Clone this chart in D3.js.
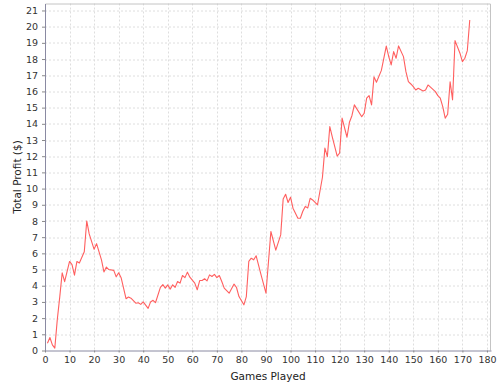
<!DOCTYPE html>
<html>
<head>
<meta charset="utf-8">
<script src="https://cdn.jsdelivr.net/npm/d3@7"></script>
<style>
  body { margin: 0; background: #fff; }
  svg { display: block; }
  text { font-family: "DejaVu Sans", sans-serif; }
</style>
</head>
<body>
<div id="chart"></div>
<script>

// games played (x) and running profit in $ (y)
var games = [1, 2, 3, 4, 5, 6, 7, 8, 10, 11, 12, 13, 14, 16, 17, 18, 20, 21, 23, 24,
  25, 26, 28, 29, 30, 31, 33, 34, 35, 37, 38, 39, 40, 42, 43, 44, 45, 47, 48, 49,
  50, 51, 52, 53, 54, 55, 56, 57, 58, 59, 61, 62, 63, 64, 65, 66, 67, 68, 69, 70,
  71, 72, 73, 75, 77, 78, 79, 81, 82, 83, 84, 85, 86, 88, 90, 92, 94, 96, 97, 98,
  99, 100, 101, 103, 104, 105, 106, 107, 108, 109, 111, 113, 114, 115, 116, 117, 119, 120, 121, 123,
  124, 125, 126, 129, 130, 131, 132, 133, 134, 135, 137, 139, 140, 141, 142, 143, 144, 146, 147, 148,
  149, 150, 151, 152, 154, 155, 156, 157, 159, 160, 161, 162, 163, 164, 165, 166, 167, 169, 170, 171,
  172, 173];

var profit = [0.45, 0.8, 0.35, 0.15, 1.9, 3.3, 4.8, 4.25, 5.5, 5.3, 4.65, 5.5, 5.4, 6.1, 8.0, 7.2, 6.25, 6.6, 5.6, 4.85,
  5.15, 5.0, 4.95, 4.55, 4.8, 4.5, 3.2, 3.3, 3.23, 2.92, 2.95, 2.85, 3.0, 2.6, 3.0, 3.1, 2.95, 3.9, 4.07, 3.85,
  4.05, 3.79, 4.06, 3.9, 4.26, 4.16, 4.63, 4.5, 4.84, 4.53, 4.16, 3.75, 4.32, 4.32, 4.43, 4.3, 4.67, 4.57, 4.7, 4.5,
  4.63, 4.26, 3.85, 3.54, 4.1, 3.89, 3.33, 2.82, 3.33, 5.5, 5.7, 5.6, 5.85, 4.67, 3.54, 7.35, 6.2, 7.14, 9.35, 9.65,
  9.14, 9.47, 8.79, 8.17, 8.17, 8.6, 8.9, 8.8, 9.4, 9.3, 9.0, 10.7, 12.5, 11.97, 13.83, 13.2, 12.0, 12.2, 14.35, 13.17,
  14.1, 14.5, 15.17, 14.44, 14.65, 15.58, 15.74, 15.17, 16.9, 16.57, 17.3, 18.8, 18.15, 17.64, 18.46, 18.05, 18.81, 18.15, 17.22, 16.6,
  16.46, 16.3, 16.09, 16.2, 16.03, 16.09, 16.4, 16.26, 15.99, 15.74, 15.58, 15.06, 14.35, 14.59, 16.6, 15.48, 19.14, 18.36, 17.84, 18.05,
  18.52, 20.41];

var xTickValues = [0, 10, 20, 30, 40, 50, 60, 70, 80, 90, 100, 110, 120, 130, 140, 150, 160, 170, 180];
var yTickValues = [0, 1, 2, 3, 4, 5, 6, 7, 8, 9, 10, 11, 12, 13, 14, 15, 16, 17, 18, 19, 20, 21];

var svgWidth = 499;
var svgHeight = 388;

var margin = { top: 3.5, right: 8, bottom: 37.5, left: 45 };
var width = svgWidth - margin.left - margin.right;
var height = svgHeight - margin.top - margin.bottom;

var points = games.map(function (g, i) { return { game: g, profit: profit[i] }; });

var svg = d3.select("#chart")
  .append("svg")
  .attr("width", svgWidth)
  .attr("height", svgHeight);

var chartGroup = svg.append("g")
  .attr("transform", `translate(${margin.left}, ${margin.top})`);

// auto range with a 5% upper margin, like the original
var xMax = d3.max(games) * 1.05;
var yMax = d3.max(profit) * 1.05;

var xLinearScale = d3.scaleLinear().domain([0, xMax]).range([0, width]);
var yLinearScale = d3.scaleLinear().domain([0, yMax]).range([height, 0]);

// gridlines
chartGroup.append("g")
  .selectAll("line")
  .data(xTickValues.filter(d => d > 0))
  .enter()
  .append("line")
  .attr("x1", d => Math.round(xLinearScale(d)) + 0.5)
  .attr("x2", d => Math.round(xLinearScale(d)) + 0.5)
  .attr("y1", 0)
  .attr("y2", height)
  .attr("stroke", "#dedede")
  .attr("stroke-dasharray", "2,2");

chartGroup.append("g")
  .selectAll("line")
  .data(yTickValues.filter(d => d > 0))
  .enter()
  .append("line")
  .attr("x1", 0)
  .attr("x2", width)
  .attr("y1", d => Math.round(yLinearScale(d)) + 0.5)
  .attr("y2", d => Math.round(yLinearScale(d)) + 0.5)
  .attr("stroke", "#dedede")
  .attr("stroke-dasharray", "2,2");

// plot outline (top and right)
chartGroup.append("path")
  .attr("d", `M0.5,0.5H${width - 0.5}V${height}`)
  .attr("fill", "none")
  .attr("stroke", "#c4c4c4");

// the profit line
var line = d3.line()
  .x(d => xLinearScale(d.game))
  .y(d => yLinearScale(d.profit));

chartGroup.append("path")
  .datum(points)
  .attr("d", line)
  .attr("fill", "none")
  .attr("stroke", "#ff5f5f")
  .attr("stroke-width", 1.1)
  .attr("stroke-linejoin", "round");

// axes
var bottomAxis = d3.axisBottom(xLinearScale)
  .tickValues(xTickValues)
  .tickSizeInner(2)
  .tickSizeOuter(0)
  .tickPadding(4);

var leftAxis = d3.axisLeft(yLinearScale)
  .tickValues(yTickValues)
  .tickSizeInner(3)
  .tickSizeOuter(0)
  .tickPadding(4);

var xAxis = chartGroup.append("g")
  .attr("transform", `translate(0, ${height})`)
  .call(bottomAxis);

var yAxis = chartGroup.append("g")
  .call(leftAxis);

[xAxis, yAxis].forEach(function (ax) {
  ax.select(".domain").attr("stroke", "#8a8aa2");
  ax.selectAll(".tick line").attr("stroke", "#8a8a8a");
  ax.selectAll(".tick text")
    .attr("fill", "#333")
    .style("font-size", "9.5px")
    .style("font-family", "'DejaVu Sans', sans-serif");
});

// axis titles
chartGroup.append("text")
  .attr("x", width / 2)
  .attr("y", height + 29)
  .attr("text-anchor", "middle")
  .attr("fill", "#222")
  .style("font-size", "10.5px")
  .text("Games Played");

chartGroup.append("text")
  .attr("transform", "rotate(-90)")
  .attr("x", -height / 2)
  .attr("y", -24)
  .attr("text-anchor", "middle")
  .attr("fill", "#222")
  .style("font-size", "10.5px")
  .text("Total Profit ($)");

</script>
</body>
</html>
